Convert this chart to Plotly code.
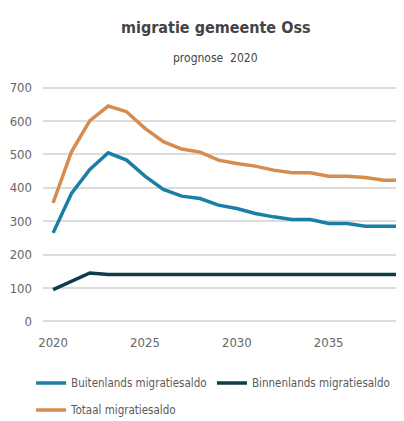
import plotly.graph_objects as go

years = list(range(2020, 2040))
buitenlands = [265, 383, 455, 505, 483, 435, 395, 375, 368, 348, 338, 323, 313, 305, 305, 293, 293, 285, 285, 285]
binnenlands = [95, 120, 145, 140, 140, 140, 140, 140, 140, 140, 140, 140, 140, 140, 140, 140, 140, 140, 140, 140]
totaal = [355, 508, 601, 645, 628, 578, 538, 516, 507, 483, 473, 465, 453, 445, 445, 435, 435, 431, 423, 423]

names = ["Buitenlands migratiesaldo", "Binnenlands migratiesaldo", "Totaal migratiesaldo"]
colors = ["#1a7fa5", "#0f3c4b", "#d68b4f"]
series = [buitenlands, binnenlands, totaal]
legends = ["legend", "legend3", "legend2"]

FONT = "DejaVu Sans Condensed, Roboto, sans-serif"

fig = go.Figure()
for n, c, s, lg in zip(names, colors, series, legends):
    fig.add_trace(go.Scatter(x=years, y=s, name=n, mode="lines", legend=lg,
                             line=dict(color=c, width=3.5)))

legend_common = dict(orientation="h", xanchor="left", yanchor="middle",
                     font=dict(family=FONT, size=11.5, color="#5a5a5a"),
                     itemwidth=30, bgcolor="rgba(0,0,0,0)")

fig.update_layout(
    width=404, height=421,
    margin=dict(l=35, r=8, t=78, b=106, autoexpand=False),
    plot_bgcolor="white", paper_bgcolor="white",
    font=dict(family=FONT, size=13, color="#666666"),
    showlegend=True,
    legend=dict(x=-0.033, y=-0.253, **legend_common),
    legend3=dict(x=0.468, y=-0.253, **legend_common),
    legend2=dict(x=-0.033, y=-0.367, **legend_common),
    xaxis=dict(range=[2019.45, 2039.1], tickvals=[2020, 2025, 2030, 2035],
               showgrid=False, zeroline=False, showline=False,
               ticks="", ticklabelstandoff=10,
               tickfont=dict(family=FONT, size=13, color="#666666")),
    yaxis=dict(range=[-5, 705], tickvals=[0, 100, 200, 300, 400, 500, 600, 700],
               showgrid=True, gridcolor="#dcdcdc", gridwidth=1.5, zeroline=False,
               showline=False, ticks="", ticklabelstandoff=10,
               tickfont=dict(family=FONT, size=13, color="#666666")),
    annotations=[
        dict(text="<b>migratie gemeente Oss</b>", xref="paper", yref="paper",
             x=0.479, y=1.245, xanchor="center", yanchor="middle",
             showarrow=False, font=dict(family=FONT, size=16, color="#444444")),
        dict(text="prognose  2020", xref="paper", yref="paper",
             x=0.479, y=1.118, xanchor="center", yanchor="middle",
             showarrow=False, font=dict(family=FONT, size=12, color="#444444")),
    ],
)

fig.write_html("out.html")
